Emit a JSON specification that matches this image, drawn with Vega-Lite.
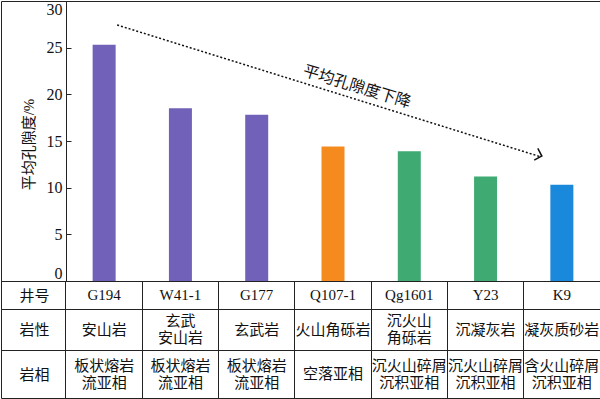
{
  "$schema": "https://vega.github.io/schema/vega-lite/v6.json",
  "padding": 0,
  "spacing": 0,
  "bounds": "flush",
  "background": "white",
  "datasets": {
    "wells": [
      {"well": "G194", "porosity": 25.3, "type": "熔岩", "lithology": "安山岩", "facies": "板状熔岩\n流亚相"},
      {"well": "W41-1", "porosity": 18.5, "type": "熔岩", "lithology": "玄武\n安山岩", "facies": "板状熔岩\n流亚相"},
      {"well": "G177", "porosity": 17.8, "type": "熔岩", "lithology": "玄武岩", "facies": "板状熔岩\n流亚相"},
      {"well": "Q107-1", "porosity": 14.4, "type": "火山碎屑岩", "lithology": "火山角砾岩", "facies": "空落亚相"},
      {"well": "Qg1601", "porosity": 13.9, "type": "沉火山碎屑岩", "lithology": "沉火山\n角砾岩", "facies": "沉火山碎屑\n沉积亚相"},
      {"well": "Y23", "porosity": 11.2, "type": "沉火山碎屑岩", "lithology": "沉凝灰岩", "facies": "沉火山碎屑\n沉积亚相"},
      {"well": "K9", "porosity": 10.3, "type": "火山碎屑沉积岩", "lithology": "凝灰质砂岩", "facies": "含火山碎屑\n沉积亚相"}
    ]
  },
  "config": {
    "view": {"stroke": "#222", "strokeWidth": 1},
    "font": "Liberation Serif, Noto Sans CJK SC",
    "concat": {"spacing": 0}
  },
  "vconcat": [
    {
      "width": 599,
      "height": 280,
      "layer": [
        {
          "data": {"name": "wells"},
          "mark": {"type": "bar", "size": 23},
          "encoding": {
            "x": {
              "field": "well", "type": "nominal", "sort": null,
              "scale": {"type": "band", "domain": ["G194", "W41-1", "G177", "Q107-1", "Qg1601", "Y23", "K9"], "paddingInner": 0, "paddingOuter": 0.426, "align": 1},
              "axis": null
            },
            "y": {
              "field": "porosity", "type": "quantitative",
              "scale": {"domain": [0, 30], "nice": false},
              "axis": {
                "orient": "left", "offset": -65, "values": [0, 5, 10, 15, 20, 25, 30],
                "tickSize": -5, "tickColor": "#222", "labelPadding": 9, "labelFlush": true,
                "domain": true, "domainColor": "#222", "grid": false,
                "labelFont": "Liberation Serif", "labelFontSize": 16, "labelColor": "#111",
                "title": "平均孔隙度/%", "titleFont": "Liberation Serif, Noto Sans CJK SC", "titleFontSize": 15,
                "titleFontWeight": "normal", "titleColor": "#111", "titleX": -38, "titleY": 143,
                "titleAlign": "center", "titleBaseline": "middle"
              }
            },
            "color": {
              "field": "type", "type": "nominal",
              "scale": {"domain": ["熔岩", "火山碎屑岩", "沉火山碎屑岩", "火山碎屑沉积岩"], "range": ["#7161b9", "#f58b1f", "#3faa72", "#1a88db"]},
              "legend": null
            }
          }
        },
        {
          "data": {"values": [{}]},
          "mark": {"type": "rule", "strokeDash": [2, 2], "strokeWidth": 1.5, "color": "#111", "xOffset": 13, "x2Offset": -21},
          "encoding": {
            "x": {"datum": "G194", "type": "nominal"},
            "x2": {"datum": "K9"},
            "y": {"datum": 27.43, "type": "quantitative"},
            "y2": {"datum": 13.3}
          }
        },
        {
          "data": {"values": [{}]},
          "mark": {"type": "point", "shape": "M-1,-1L0,0L-1,1", "filled": false, "stroke": "#111", "strokeWidth": 1.5, "size": 150, "angle": 17, "xOffset": -20, "opacity": 1},
          "encoding": {
            "x": {"datum": "K9", "type": "nominal"},
            "y": {"datum": 13.39, "type": "quantitative"}
          }
        },
        {
          "data": {"values": [{}]},
          "mark": {"type": "text", "angle": 17, "fontSize": 16, "font": "Noto Sans CJK SC", "align": "center", "baseline": "middle", "xOffset": 24, "color": "#111"},
          "encoding": {
            "x": {"datum": "Q107-1", "type": "nominal"},
            "y": {"datum": 20.8, "type": "quantitative"},
            "text": {"value": "平均孔隙度下降"}
          }
        }
      ]
    },
    {
      "width": 599,
      "height": 28,
      "data": {"name": "wells"},
      "mark": {"type": "text", "fontSize": 15, "font": "Liberation Serif, Noto Sans CJK SC", "color": "#111"},
      "encoding": {
        "x": {
          "field": "well", "type": "nominal", "sort": null,
          "scale": {"type": "band", "domain": ["G194", "W41-1", "G177", "Q107-1", "Qg1601", "Y23", "K9"], "paddingInner": 0, "paddingOuter": 0.426, "align": 1},
          "axis": {"grid": true, "bandPosition": 0, "labels": false, "ticks": false, "domain": false, "title": null, "gridColor": "#222", "gridWidth": 1, "gridOpacity": 1}
        },
        "y": {"datum": "井号", "type": "nominal", "axis": {"offset": -65, "ticks": false, "domain": false, "grid": false, "labelAlign": "center", "labelPadding": 32, "labelFont": "Noto Sans CJK SC", "labelFontSize": 15, "labelColor": "#111", "title": null}},
        "text": {"field": "well"}
      }
    },
    {
      "width": 599,
      "height": 41,
      "data": {"name": "wells"},
      "encoding": {
        "x": {
          "field": "well", "type": "nominal", "sort": null,
          "scale": {"type": "band", "domain": ["G194", "W41-1", "G177", "Q107-1", "Qg1601", "Y23", "K9"], "paddingInner": 0, "paddingOuter": 0.426, "align": 1},
          "axis": {"grid": true, "bandPosition": 0, "labels": false, "ticks": false, "domain": false, "title": null, "gridColor": "#222", "gridWidth": 1, "gridOpacity": 1}
        },
        "y": {"datum": "岩性", "type": "nominal", "axis": {"offset": -65, "ticks": false, "domain": false, "grid": false, "labelAlign": "center", "labelPadding": 32, "labelFont": "Noto Sans CJK SC", "labelFontSize": 15, "labelColor": "#111", "title": null}},
        "text": {"field": "lithology"}
      },
      "layer": [
        {
          "transform": [{"filter": "indexof(datum.lithology, '\\n') < 0"}],
          "mark": {"type": "text", "fontSize": 15, "font": "Noto Sans CJK SC", "color": "#111", "lineBreak": "\n", "lineHeight": 17}
        },
        {
          "transform": [{"filter": "indexof(datum.lithology, '\\n') >= 0"}],
          "mark": {"type": "text", "fontSize": 15, "font": "Noto Sans CJK SC", "color": "#111", "lineBreak": "\n", "lineHeight": 17, "dy": -8.5}
        }
      ]
    },
    {
      "width": 599,
      "height": 48,
      "data": {"name": "wells"},
      "encoding": {
        "x": {
          "field": "well", "type": "nominal", "sort": null,
          "scale": {"type": "band", "domain": ["G194", "W41-1", "G177", "Q107-1", "Qg1601", "Y23", "K9"], "paddingInner": 0, "paddingOuter": 0.426, "align": 1},
          "axis": {"grid": true, "bandPosition": 0, "labels": false, "ticks": false, "domain": false, "title": null, "gridColor": "#222", "gridWidth": 1, "gridOpacity": 1}
        },
        "y": {"datum": "岩相", "type": "nominal", "axis": {"offset": -65, "ticks": false, "domain": false, "grid": false, "labelAlign": "center", "labelPadding": 32, "labelFont": "Noto Sans CJK SC", "labelFontSize": 15, "labelColor": "#111", "title": null}},
        "text": {"field": "facies"}
      },
      "layer": [
        {
          "transform": [{"filter": "indexof(datum.facies, '\\n') < 0"}],
          "mark": {"type": "text", "fontSize": 15, "font": "Noto Sans CJK SC", "color": "#111", "lineBreak": "\n", "lineHeight": 17}
        },
        {
          "transform": [{"filter": "indexof(datum.facies, '\\n') >= 0"}],
          "mark": {"type": "text", "fontSize": 15, "font": "Noto Sans CJK SC", "color": "#111", "lineBreak": "\n", "lineHeight": 17, "dy": -8.5}
        }
      ]
    }
  ]
}
